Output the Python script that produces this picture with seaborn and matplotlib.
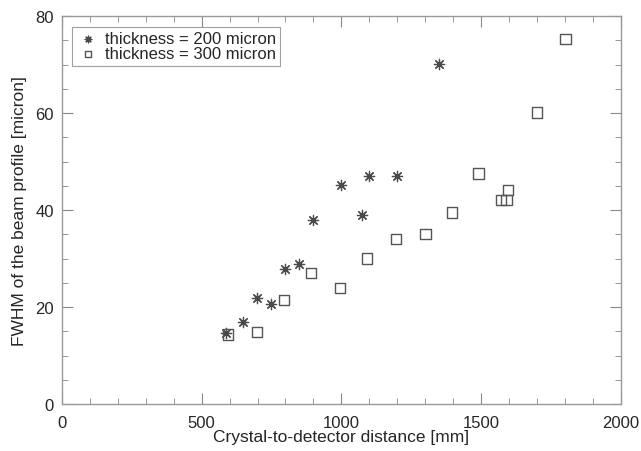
import pandas as pd
import matplotlib
matplotlib.use("Agg")
import matplotlib.pyplot as plt
import seaborn as sns
from matplotlib.ticker import MultipleLocator

# thickness = 200 micron
dist_200 = [588, 648, 699, 748, 799, 848, 900, 1000, 1075, 1100, 1201, 1351]
fwhm_200 = [14.6, 17.0, 21.8, 20.7, 27.9, 28.8, 37.9, 45.1, 39.0, 47.1, 47.1, 70.2]

# thickness = 300 micron
dist_300 = [594, 699, 795, 891, 995, 1091, 1195, 1301, 1395, 1491, 1572, 1591, 1596, 1701, 1802]
fwhm_300 = [14.3, 14.9, 21.4, 27.0, 23.9, 30.0, 34.0, 35.0, 39.5, 47.5, 42.1, 42.1, 44.1, 60.1, 75.2]

labels = ["thickness = 200 micron", "thickness = 300 micron"]

df = pd.concat([
    pd.DataFrame({"dist": dist_200, "fwhm": fwhm_200, "group": labels[0]}),
    pd.DataFrame({"dist": dist_300, "fwhm": fwhm_300, "group": labels[1]}),
])

sns.set_style("ticks")
plt.rcParams["font.family"] = ["Liberation Sans", "DejaVu Sans"]

fig = plt.figure(figsize=(6.41, 4.52), dpi=100)
ax = fig.add_axes([62 / 641, 1 - 405 / 452, (620.7 - 62) / 641, (405 - 17) / 452])

sns.scatterplot(data=df[df.group == labels[0]], x="dist", y="fwhm", ax=ax,
                marker=(8, 2, 0), s=55, color="#4a4a4a", linewidth=0.9,
                edgecolor="#4a4a4a", label=labels[0])
sns.scatterplot(data=df[df.group == labels[1]], x="dist", y="fwhm", ax=ax,
                marker="s", s=55, facecolor="none", edgecolor="#555555",
                linewidth=1.0, label=labels[1])

ax.set_xlim(0, 2000)
ax.set_ylim(0, 80)
ax.xaxis.set_major_locator(MultipleLocator(500))
ax.xaxis.set_minor_locator(MultipleLocator(100))
ax.yaxis.set_major_locator(MultipleLocator(20))
ax.yaxis.set_minor_locator(MultipleLocator(5))
ax.tick_params(which="both", direction="in", top=True, right=True,
               color="#888888", labelsize=12)
ax.tick_params(axis="x", pad=8)
ax.tick_params(axis="y", pad=6)
ax.tick_params(which="major", length=8)
ax.tick_params(which="minor", length=4)
for sp in ax.spines.values():
    sp.set_color("#999999")
    sp.set_linewidth(1.0)

ax.set_xlabel("Crystal-to-detector distance [mm]", fontsize=12.5, labelpad=-1)
ax.set_ylabel("FWHM of the beam profile [micron]", fontsize=12.5, labelpad=6)

leg = ax.legend(loc="upper left", bbox_to_anchor=(0.018, 0.972), fontsize=12,
                frameon=True, fancybox=False, handletextpad=0.3,
                handlelength=1.4, borderpad=0.25, labelspacing=0.02,
                borderaxespad=0.0, markerscale=0.65)
leg.get_frame().set_edgecolor("#888888")
leg.get_frame().set_linewidth(0.8)

fig.savefig("out.png", dpi=100)
